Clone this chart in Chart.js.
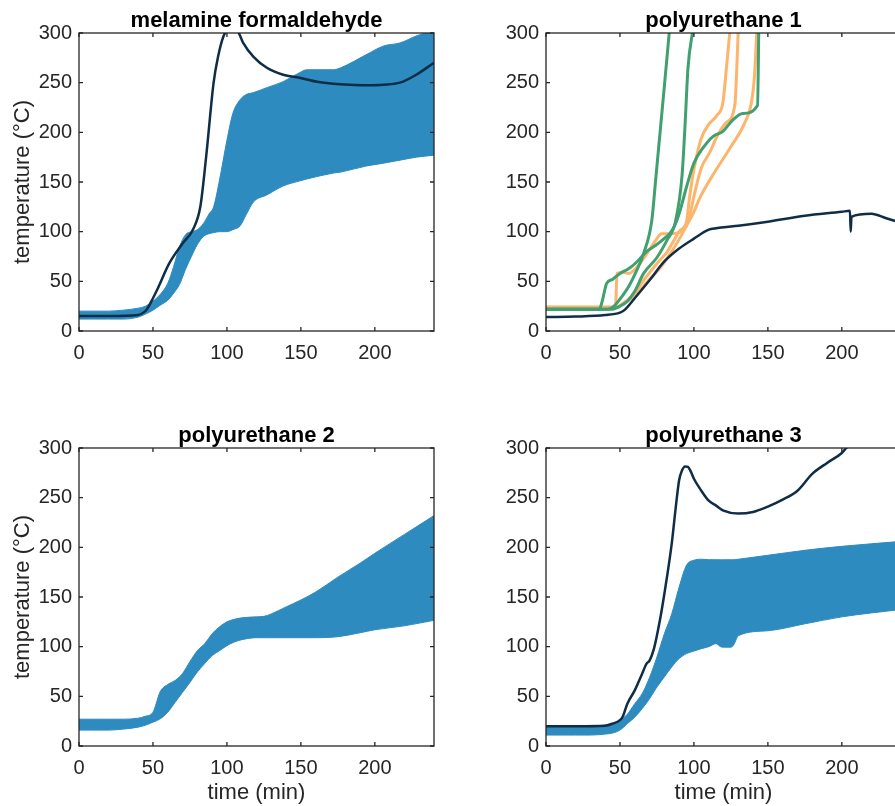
<!DOCTYPE html>
<html>
<head>
<meta charset="utf-8">
<script src="https://cdn.jsdelivr.net/npm/chart.js@4.4.0/dist/chart.umd.min.js"></script>
<style>
html, body { margin: 0; padding: 0; background: #fff; overflow: hidden; width: 895px; height: 806px; }
canvas { position: absolute; }
</style>
</head>
<body>
<canvas id="mf" width="450" height="385" style="left:0;top:0"></canvas>
<canvas id="pu1" width="467" height="385" style="left:450px;top:0"></canvas>
<canvas id="pu2" width="450" height="406" style="left:0;top:400px"></canvas>
<canvas id="pu3" width="467" height="406" style="left:450px;top:400px"></canvas>
<script>
// axes
var xTicks = [0, 50, 100, 150, 200];
var yTicks = [0, 50, 100, 150, 200, 250, 300];

// melamine formaldehyde
var mfBandTime  = [0, 10, 20, 30, 40, 45, 50, 55, 60, 64, 68, 72, 76, 80, 84, 88, 91, 95, 100, 104, 109, 113, 118, 127, 138, 149, 154, 172, 177, 194, 206, 217, 228, 240];
var mfBandUpper = [20, 20, 20, 21, 23, 25, 30, 37, 48, 65, 85, 97, 100, 102, 108, 118, 125, 152, 192, 219, 233, 238, 240, 245, 251, 260, 263, 263, 265, 278, 287, 290, 297, 303];
var mfBandLower = [12, 12, 12, 12, 14, 17, 21, 26, 31, 38, 47, 62, 75, 87, 95, 98, 99, 100, 100, 102, 106, 117, 130, 137, 146, 151, 153, 159, 160, 166, 169, 172, 175, 177];
var mfLineTime  = [0, 20, 40, 44, 46, 50, 53, 61, 70, 77, 82, 86, 91, 94, 97.5, 101, 104, 108, 111, 118, 127, 138, 149, 161, 172, 183, 194, 206, 217, 228, 240];
var mfLineTemp  = [15, 15, 16, 19, 22, 33, 42, 68, 88, 102, 125, 176, 250, 276, 296, 304, 305, 300, 290, 276, 265, 258, 255, 251, 249, 248, 247.5, 248, 250, 258, 270];

// polyurethane 1
var pu1LineTime = [0, 20, 40, 50, 53, 60, 70, 80, 90, 100, 110, 115, 120, 130, 150, 175, 200, 205.5, 206, 206.5, 220, 230, 240];
var pu1LineTemp = [14, 14.5, 16, 18.5, 21, 33, 51, 70, 83, 93, 102, 103.5, 104.5, 106, 110, 116, 120, 121, 100, 115, 118, 113.5, 109];
var pu1GreenATime = [0, 36, 38, 41, 45, 50, 55, 58, 63, 68, 74, 79, 83.6, 87, 90, 95, 100, 106, 113, 119.6, 126, 133, 143, 144];
var pu1GreenATemp = [22, 22, 30, 48, 52, 58, 62, 65, 72, 80, 86, 92, 98, 106, 118, 145, 169, 184, 196, 201, 212, 219, 227, 320];
var pu1GreenBTime = [0, 42, 46, 50, 56, 61, 66, 71.6, 74, 77, 80, 83.6];
var pu1GreenBTemp = [22, 22, 25, 32, 45, 60, 78, 112, 150, 198, 246, 305];
var pu1GreenCTime = [0, 45, 50, 55, 60, 66, 75, 82, 87.5, 92, 94, 96, 99.5];
var pu1GreenCTemp = [22, 22, 25, 30, 40, 58, 74, 92, 110, 157, 207, 265, 305];
var pu1OrangeATime = [0, 47, 48, 52, 56, 60, 65.5, 70, 74.5, 78, 84, 90, 93, 95, 97, 99.3, 102, 105, 109.5, 115.5, 119.6, 122, 124.5];
var pu1OrangeATemp = [24, 24, 58, 59, 58, 62, 72, 82, 92, 98, 98, 99, 104, 110, 134, 157, 177, 194, 207, 217, 230, 265, 305];
var pu1OrangeBTime = [0, 48, 52, 58, 63, 68, 75, 82, 86, 90, 96, 100.7, 105, 110.8, 116, 122, 127.7, 129, 130];
var pu1OrangeBTemp = [24, 24, 28, 35, 45, 55, 68, 80, 90, 100, 110, 140, 164, 180, 197, 210, 228, 265, 305];
var pu1OrangeCTime = [0, 48, 52, 58, 64, 70, 78, 85, 91, 95, 100, 104, 112.8, 124.3, 134.5, 139, 141, 142.6];
var pu1OrangeCTemp = [24, 24, 27, 33, 42, 52, 65, 80, 95, 106, 120, 134, 157, 184, 210, 231, 258, 305];

// polyurethane 2
var pu2BandTime  = [0, 10, 20, 30, 40, 45, 50, 55, 60, 65, 70, 75, 80, 85, 90, 95, 100, 105, 110, 120, 125, 130, 140, 150, 160, 175, 190, 200, 220, 240];
var pu2BandUpper = [27, 27, 27, 27, 28, 30, 34, 55, 62, 66, 73, 85, 96, 103, 113, 120, 125, 127.5, 129, 130, 130.5, 133, 140, 147, 155, 170, 184, 194, 213, 232];
var pu2BandLower = [16, 16, 16, 17, 19, 21, 24, 27.5, 34, 44, 54, 64, 74.5, 83, 91, 96, 101, 104.7, 107, 109, 109, 109, 109, 109, 109, 110, 114, 117, 121, 126.5];

// polyurethane 3
var pu3BandTime  = [0, 10, 20, 30, 40, 45, 50, 55, 60, 65, 70, 75, 80, 85, 90, 95, 100, 105, 110, 115, 118, 120, 125, 127, 130, 150, 175, 200, 240];
var pu3BandUpper = [20, 20, 20, 20, 21, 22, 26, 32, 42.6, 52.7, 69, 89.6, 113, 133, 160, 182, 187, 188, 187.6, 187.5, 187.5, 187.5, 187.5, 187.5, 188, 192, 197, 201, 206];
var pu3BandLower = [11, 11, 11, 11, 12, 13, 16, 22.5, 29, 37.6, 47.6, 59.4, 69.5, 79.5, 88, 93, 95.6, 98, 100, 103, 100, 99.5, 99.5, 102, 111, 116, 123, 130, 137.5];
var pu3LineTime = [0, 20, 40, 45, 50, 52, 55, 60, 65, 68, 70, 73, 77, 80, 85, 88, 90, 92, 94, 96, 98, 100, 105, 110, 115, 120, 130, 140, 150, 160, 170, 180, 190, 200, 203, 210];
var pu3LineTemp = [20, 20, 20.5, 22.5, 26, 30, 42.6, 56, 72.8, 83, 86, 98, 126.5, 153, 203.7, 244, 267.5, 277.5, 281.5, 281, 276, 269, 257, 247, 242, 237, 234, 235.6, 241, 248, 257, 274, 285, 295, 300, 310];

var BAND = '#2e8bc0';
var DARK = '#0f2d46';
var GREEN = '#40a070';
var ORANGE = '#fdb46b';
var AXIS = '#262626';
var FONT = '"Liberation Sans", Arial, Helvetica, sans-serif';

Chart.defaults.font.family = FONT;
Chart.defaults.color = AXIS;

function pts(t, v) {
    return t.map(function (x, i) { return { x: x, y: v[i] }; });
}

function line(t, v, color, width) {
    return { data: pts(t, v), borderColor: color, borderWidth: width, pointRadius: 0, fill: false, cubicInterpolationMode: 'monotone' };
}

function band(t, upper, lower) {
    return [
        { data: pts(t, upper), borderColor: BAND, backgroundColor: BAND, borderWidth: 1, pointRadius: 0, fill: false, cubicInterpolationMode: 'monotone' },
        { data: pts(t, lower), borderColor: BAND, backgroundColor: BAND, borderWidth: 1, pointRadius: 0, fill: '-1', cubicInterpolationMode: 'monotone' }
    ];
}

// MATLAB style box, inward ticks and bold title
function boxPlugin(title) {
    return {
        id: 'matlabBox',
        afterDraw: function (chart) {
            var ctx = chart.ctx, a = chart.chartArea, x = chart.scales.x, y = chart.scales.y;
            ctx.save();
            ctx.strokeStyle = AXIS;
            ctx.lineWidth = 1.3;
            ctx.strokeRect(a.left, a.top, a.right - a.left, a.bottom - a.top);
            ctx.beginPath();
            xTicks.forEach(function (v) {
                var px = x.getPixelForValue(v);
                ctx.moveTo(px, a.bottom); ctx.lineTo(px, a.bottom - 4);
                ctx.moveTo(px, a.top); ctx.lineTo(px, a.top + 4);
            });
            yTicks.forEach(function (v) {
                var py = y.getPixelForValue(v);
                ctx.moveTo(a.left, py); ctx.lineTo(a.left + 4, py);
                ctx.moveTo(a.right, py); ctx.lineTo(a.right - 4, py);
            });
            ctx.stroke();
            ctx.fillStyle = '#000';
            ctx.font = 'bold 22px ' + FONT;
            ctx.textAlign = 'center';
            ctx.textBaseline = 'alphabetic';
            ctx.fillText(title, (a.left + a.right) / 2, a.top - 6);
            ctx.restore();
        }
    };
}

function makeChart(id, title, datasets, opts) {
    new Chart(document.getElementById(id).getContext('2d'), {
        type: 'line',
        data: { datasets: datasets },
        options: {
            responsive: false,
            animation: false,
            devicePixelRatio: 1,
            events: [],
            layout: { padding: { top: opts.top, right: 16, left: 0, bottom: 0 } },
            plugins: { legend: { display: false }, tooltip: { enabled: false } },
            scales: {
                x: {
                    type: 'linear', min: 0, max: 240,
                    grid: { display: false, drawTicks: false },
                    border: { display: false },
                    ticks: { font: { size: 20 }, padding: 10, maxRotation: 0, autoSkip: false },
                    afterBuildTicks: function (s) { s.ticks = xTicks.map(function (v) { return { value: v }; }); },
                    afterFit: function (s) { s.height = opts.xh; },
                    title: { display: opts.xTitle, text: 'time (min)', font: { size: 22 }, padding: 0 }
                },
                y: {
                    type: 'linear', min: 0, max: 300,
                    grid: { display: false, drawTicks: false },
                    border: { display: false },
                    ticks: { font: { size: 20 }, padding: 7 },
                    afterBuildTicks: function (s) { s.ticks = yTicks.map(function (v) { return { value: v }; }); },
                    afterFit: function (s) { s.width = opts.yw; },
                    title: { display: opts.yTitle, text: 'temperature (°C)', font: { size: 22 }, padding: { top: 10, bottom: 0 } }
                }
            }
        },
        plugins: [boxPlugin(title)]
    });
}

window.onload = function () {
    makeChart('mf', 'melamine formaldehyde',
        [line(mfLineTime, mfLineTemp, DARK, 2.5)].concat(band(mfBandTime, mfBandUpper, mfBandLower)),
        { top: 33, xh: 54, yw: 79, xTitle: false, yTitle: true });

    makeChart('pu1', 'polyurethane 1', [
        line(pu1LineTime, pu1LineTemp, DARK, 2.5),
        line(pu1GreenATime, pu1GreenATemp, GREEN, 3),
        line(pu1GreenBTime, pu1GreenBTemp, GREEN, 3),
        line(pu1GreenCTime, pu1GreenCTemp, GREEN, 3),
        line(pu1OrangeATime, pu1OrangeATemp, ORANGE, 3),
        line(pu1OrangeBTime, pu1OrangeBTemp, ORANGE, 3),
        line(pu1OrangeCTime, pu1OrangeCTemp, ORANGE, 3)
    ], { top: 33, xh: 54, yw: 96, xTitle: false, yTitle: false });

    makeChart('pu2', 'polyurethane 2', band(pu2BandTime, pu2BandUpper, pu2BandLower),
        { top: 48, xh: 60, yw: 79, xTitle: true, yTitle: true });

    makeChart('pu3', 'polyurethane 3',
        [line(pu3LineTime, pu3LineTemp, DARK, 2.5)].concat(band(pu3BandTime, pu3BandUpper, pu3BandLower)),
        { top: 48, xh: 60, yw: 96, xTitle: true, yTitle: false });
};
</script>
</body>
</html>
